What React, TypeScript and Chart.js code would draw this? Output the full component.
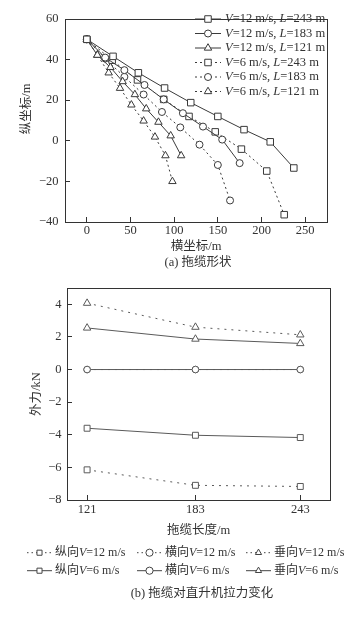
import React, { useEffect, useRef } from "react";
import { Chart, registerables } from "chart.js";
Chart.register(...registerables);

const FONT = "'Liberation Serif', 'Times New Roman', 'Noto Sans CJK SC', serif";
const TXT = "#333";
const LINE_A = "#3a3a3a";
const LINE_B = "#5a5a5a";

// ---------- (a) 拖缆形状 ----------
const a_V12_L243_x = [0, 30, 59, 89, 119, 150, 180, 210, 237];
const a_V12_L243_y = [50, 41.6, 33.5, 26, 18.8, 12, 5.5, -0.5, -13.4];
const a_V12_L183_x = [0, 21, 43, 66, 88, 110, 133, 155, 175];
const a_V12_L183_y = [50, 41, 34.8, 27.5, 20.4, 13.6, 7, 0.6, -11];
const a_V12_L121_x = [0, 12, 27, 41, 55, 68, 82, 96, 108];
const a_V12_L121_y = [50, 42.2, 36.2, 29.2, 22.8, 15.8, 9.2, 2.5, -7.3];
const a_V6_L243_x = [0, 29, 58, 88, 117, 147, 177, 206, 226];
const a_V6_L243_y = [50, 39.7, 30, 20.4, 12, 4.4, -4.1, -14.9, -36.4];
const a_V6_L183_x = [0, 21, 43, 65, 86, 107, 129, 150, 164];
const a_V6_L183_y = [50, 40.5, 31.5, 22.8, 14.2, 6.6, -1.9, -11.9, -29.4];
const a_V6_L121_x = [0, 12, 25, 38, 51, 65, 78, 90, 98];
const a_V6_L121_y = [50, 42.2, 33.5, 25.9, 17.7, 9.8, 1.9, -7.3, -20];
const a_labels = [
  "V=12 m/s, L=243 m",
  "V=12 m/s, L=183 m",
  "V=12 m/s, L=121 m",
  "V=6 m/s, L=243 m",
  "V=6 m/s, L=183 m",
  "V=6 m/s, L=121 m",
];
const a_xTicks = [0, 50, 100, 150, 200, 250];
const a_yTicks = [-40, -20, 0, 20, 40, 60];

// ---------- (b) 拖缆对直升机拉力变化 ----------
const b_lengths = [121, 183, 243];
const b_long_V12 = [-6.15, -7.1, -7.17];
const b_lat_V12 = [0, 0, 0];
const b_vert_V12 = [4.07, 2.6, 2.13];
const b_long_V6 = [-3.6, -4.03, -4.17];
const b_lat_V6 = [0, 0, 0];
const b_vert_V6 = [2.55, 1.87, 1.6];
const b_labels = [
  "纵向V=12 m/s",
  "横向V=12 m/s",
  "垂向V=12 m/s",
  "纵向V=6 m/s",
  "横向V=6 m/s",
  "垂向V=6 m/s",
];
const b_yTicks = [-8, -6, -4, -2, 0, 2, 4];

const zip = (xs: number[], ys: number[]) => xs.map((x, i) => ({ x, y: ys[i] }));
const minus = (v: any) => String(v).replace("-", "\u2212");

function drawMarker(ctx: CanvasRenderingContext2D, style: string, x: number, y: number, r: number, color: string) {
  ctx.save();
  ctx.setLineDash([]);
  ctx.strokeStyle = color;
  ctx.fillStyle = "#fff";
  ctx.lineWidth = 1;
  ctx.beginPath();
  if (style === "rect") {
    const s = Math.SQRT1_2 * r;
    ctx.rect(x - s, y - s, 2 * s, 2 * s);
  } else if (style === "circle") {
    ctx.arc(x, y, r, 0, Math.PI * 2);
  } else {
    let a = 0;
    ctx.moveTo(x + Math.sin(a) * r, y - Math.cos(a) * r);
    a += (2 * Math.PI) / 3;
    ctx.lineTo(x + Math.sin(a) * r, y - Math.cos(a) * r);
    a += (2 * Math.PI) / 3;
    ctx.lineTo(x + Math.sin(a) * r, y - Math.cos(a) * r);
    ctx.closePath();
  }
  ctx.fill();
  ctx.stroke();
  ctx.restore();
}

function drawRich(ctx: CanvasRenderingContext2D, text: string, x: number, y: number, size: number) {
  const parts = text.split(/([VL](?==))/);
  let cx = x;
  ctx.textBaseline = "middle";
  ctx.textAlign = "left";
  for (const p of parts) {
    if (!p) continue;
    const italic = /^[VL]$/.test(p);
    ctx.font = `${italic ? "italic " : ""}${size}px ${FONT}`;
    ctx.fillText(p, cx, y);
    cx += ctx.measureText(p).width;
  }
}

function drawSample(ctx: CanvasRenderingContext2D, x1: number, x2: number, y: number, style: string, r: number, dash: number[], color: string) {
  ctx.save();
  ctx.strokeStyle = color;
  ctx.lineWidth = 1;
  ctx.setLineDash(dash);
  ctx.beginPath();
  ctx.moveTo(x1, y);
  ctx.lineTo(x2, y);
  ctx.stroke();
  ctx.restore();
  drawMarker(ctx, style, (x1 + x2) / 2, y, r, color);
}

const boxPlugin = {
  id: "box",
  afterDraw(chart: any) {
    const { ctx, chartArea } = chart;
    const l = Math.round(chartArea.left) + 0.5;
    const t = Math.round(chartArea.top) + 0.5;
    const r = Math.round(chartArea.right) + 0.5;
    const b = Math.round(chartArea.bottom) + 0.5;
    ctx.save();
    ctx.strokeStyle = "#333";
    ctx.lineWidth = 1;
    ctx.setLineDash([]);
    ctx.strokeRect(l, t, r - l, b - t);
    ctx.restore();
  },
};

function axisCommon(size: number) {
  return {
    border: { display: false },
    grid: { drawOnChartArea: false, tickLength: -5, color: "#333", lineWidth: 1 },
    ticks: { font: { family: FONT, size }, color: TXT, autoSkip: false, maxRotation: 0, callback: minus },
  };
}

function ChartA() {
  const ref = useRef<HTMLCanvasElement>(null);
  useEffect(() => {
    const DASH = [2, 3];
    const ds = (label: string, xs: number[], ys: number[], style: string, r: number, dotted: boolean) => ({
      label,
      data: zip(xs, ys),
      borderColor: LINE_A,
      borderWidth: 1,
      borderDash: dotted ? DASH : [],
      pointStyle: style,
      pointRadius: r,
      pointBorderWidth: 1,
      pointBorderColor: LINE_A,
      pointBackgroundColor: "#fff",
      tension: 0,
      fill: false,
    });
    const styles = [
      { s: "rect", r: 4.6, d: false },
      { s: "circle", r: 3.5, d: false },
      { s: "triangle", r: 4.3, d: false },
      { s: "rect", r: 4.6, d: true },
      { s: "circle", r: 3.5, d: true },
      { s: "triangle", r: 4.3, d: true },
    ];
    const legendPlugin = {
      id: "legendA",
      afterDraw(chart: any) {
        const ctx = chart.ctx;
        ctx.save();
        ctx.fillStyle = TXT;
        a_labels.forEach((lab, i) => {
          const y = 19 + i * 14.5;
          const st = styles[i];
          drawSample(ctx, 195, 221, y, st.s, st.r, st.d ? DASH : [], LINE_A);
          ctx.fillStyle = TXT;
          drawRich(ctx, lab, 225, y, 12.5);
        });
        ctx.fillStyle = TXT;
        ctx.font = `12.5px ${FONT}`;
        ctx.textAlign = "center";
        ctx.textBaseline = "middle";
        ctx.fillText("(a) 拖缆形状", 198, 263);
        // y-axis title
        ctx.save();
        ctx.translate(27, 109);
        ctx.rotate(-Math.PI / 2);
        ctx.fillText("纵坐标/m", 0, 0);
        ctx.restore();
        ctx.restore();
      },
    };
    const c = axisCommon(12.5);
    const chart = new Chart(ref.current!, {
      type: "line",
      data: {
        datasets: [
          ds(a_labels[0], a_V12_L243_x, a_V12_L243_y, "rect", 4.6, false),
          ds(a_labels[1], a_V12_L183_x, a_V12_L183_y, "circle", 3.5, false),
          ds(a_labels[2], a_V12_L121_x, a_V12_L121_y, "triangle", 4.3, false),
          ds(a_labels[3], a_V6_L243_x, a_V6_L243_y, "rect", 4.6, true),
          ds(a_labels[4], a_V6_L183_x, a_V6_L183_y, "circle", 3.5, true),
          ds(a_labels[5], a_V6_L121_x, a_V6_L121_y, "triangle", 4.3, true),
        ] as any,
      },
      options: {
        responsive: false,
        animation: false,
        events: [],
        layout: { padding: { top: 10, right: 34, bottom: 14, left: 0 } },
        plugins: { legend: { display: false }, tooltip: { enabled: false } },
        scales: {
          x: {
            type: "linear",
            min: -25,
            max: 275,
            ...c,
            ticks: { ...c.ticks, padding: 6 },
            afterBuildTicks: (s: any) => {
              s.ticks = a_xTicks.map((v) => ({ value: v }));
            },
            afterFit: (s: any) => {
              s.height = 34;
            },
            title: { display: true, text: "横坐标/m", font: { family: FONT, size: 12.5 }, color: TXT, padding: { top: 0, bottom: 2 } },
          },
          y: {
            type: "linear",
            min: -40,
            max: 60,
            ...c,
            ticks: { ...c.ticks, padding: 11.5 },
            afterBuildTicks: (s: any) => {
              s.ticks = a_yTicks.map((v) => ({ value: v }));
            },
            afterFit: (s: any) => {
              s.width = 65;
            },
            title: { display: false },
          },
        } as any,
      },
      plugins: [boxPlugin, legendPlugin],
    });
    return () => chart.destroy();
  }, []);
  return <canvas ref={ref} width={361} height={270} style={{ position: "absolute", left: 0, top: 0, width: 361, height: 270 }} />;
}

function ChartB() {
  const ref = useRef<HTMLCanvasElement>(null);
  useEffect(() => {
    const DASH = [2, 5];
    const ds = (label: string, ys: number[], style: string, r: number, dotted: boolean) => ({
      label,
      data: zip(b_lengths, ys),
      borderColor: LINE_B,
      borderWidth: 1,
      borderDash: dotted ? DASH : [],
      pointStyle: style,
      pointRadius: r,
      pointBorderWidth: 1,
      pointBorderColor: LINE_B,
      pointBackgroundColor: "#fff",
      tension: 0,
      fill: false,
    });
    const styles = [
      { s: "rect", r: 4.2, d: true },
      { s: "circle", r: 3.3, d: true },
      { s: "triangle", r: 4.3, d: true },
      { s: "rect", r: 4.2, d: false },
      { s: "circle", r: 3.3, d: false },
      { s: "triangle", r: 4.3, d: false },
    ];
    const legendPlugin = {
      id: "legendB",
      afterDraw(chart: any) {
        const ctx = chart.ctx;
        ctx.save();
        const cols = [27, 137, 246];
        b_labels.forEach((lab, i) => {
          const row = Math.floor(i / 3);
          const col = i % 3;
          const y = row === 0 ? 282.7 : 300.7;
          const x = cols[col];
          const st = styles[i];
          drawSample(ctx, x, x + 25, y, st.s, 3.6, st.d ? [1.5, 3] : [], "#444");
          ctx.fillStyle = TXT;
          drawRich(ctx, lab, x + 28, y, 12);
        });
        ctx.fillStyle = TXT;
        ctx.font = `12.5px ${FONT}`;
        ctx.textAlign = "center";
        ctx.textBaseline = "middle";
        ctx.fillText("(b) 拖缆对直升机拉力变化", 202, 324);
        ctx.restore();
      },
    };
    const c = axisCommon(12.5);
    const chart = new Chart(ref.current!, {
      type: "line",
      data: {
        datasets: [
          ds(b_labels[0], b_long_V12, "rect", 4.2, true),
          ds(b_labels[1], b_lat_V12, "circle", 3.3, true),
          ds(b_labels[2], b_vert_V12, "triangle", 4.3, true),
          ds(b_labels[3], b_long_V6, "rect", 4.2, false),
          ds(b_labels[4], b_lat_V6, "circle", 3.3, false),
          ds(b_labels[5], b_vert_V6, "triangle", 4.3, false),
        ] as any,
      },
      options: {
        responsive: false,
        animation: false,
        events: [],
        layout: { padding: { top: 18, right: 31, bottom: 92, left: 0 } },
        plugins: { legend: { display: false }, tooltip: { enabled: false } },
        scales: {
          x: {
            type: "linear",
            min: 109.5,
            max: 260,
            ...c,
            ticks: { ...c.ticks, padding: 7 },
            afterBuildTicks: (s: any) => {
              s.ticks = b_lengths.map((v) => ({ value: v }));
            },
            afterFit: (s: any) => {
              s.height = 40;
            },
            title: { display: true, text: "拖缆长度/m", font: { family: FONT, size: 12.5 }, color: TXT, padding: { top: 0, bottom: 2.2 } },
          },
          y: {
            type: "linear",
            min: -8,
            max: 5,
            ...c,
            ticks: { ...c.ticks, padding: 10.5 },
            afterBuildTicks: (s: any) => {
              s.ticks = b_yTicks.map((v) => ({ value: v }));
            },
            afterFit: (s: any) => {
              s.width = 67;
            },
            title: { display: true, text: "外力/kN", font: { family: FONT, size: 12.5 }, color: TXT, padding: { top: 29, bottom: 0 } },
          },
        } as any,
      },
      plugins: [boxPlugin, legendPlugin],
    });
    return () => chart.destroy();
  }, []);
  return <canvas ref={ref} width={361} height={362} style={{ position: "absolute", left: 0, top: 270, width: 361, height: 362 }} />;
}

export default function App() {
  return (
    <div style={{ position: "absolute", left: 0, top: 0, width: 361, height: 632, background: "#fff", overflow: "hidden" }}>
      <ChartA />
      <ChartB />
    </div>
  );
}
